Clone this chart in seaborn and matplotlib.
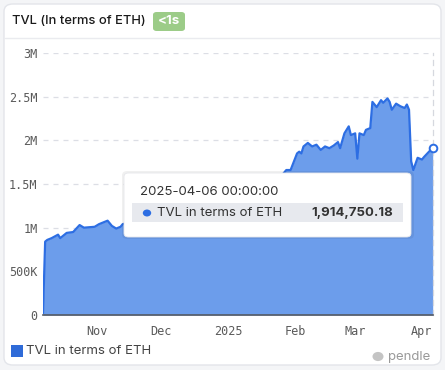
import matplotlib
matplotlib.use("Agg")
import matplotlib.pyplot as plt
import matplotlib.dates as mdates
from matplotlib.patches import FancyBboxPatch, Rectangle, Circle
import seaborn as sns
import pandas as pd
import numpy as np

# ---------------- data ----------------
dates = [
    "2024-10-07", "2024-10-08", "2024-10-09", "2024-10-11", "2024-10-14", "2024-10-15",
    "2024-10-18", "2024-10-21", "2024-10-24", "2024-10-26", "2024-10-31",
    "2024-11-02", "2024-11-06", "2024-11-08", "2024-11-10", "2024-11-12", "2024-11-13",
    "2024-11-16", "2024-11-20", "2024-11-24", "2024-11-28", "2024-12-02", "2024-12-06",
    "2024-12-10", "2024-12-14", "2024-12-18", "2024-12-22", "2024-12-26", "2024-12-30",
    "2025-01-03", "2025-01-07", "2025-01-11", "2025-01-15", "2025-01-19", "2025-01-23",
    "2025-01-26", "2025-01-28", "2025-01-30", "2025-02-02", "2025-02-03", "2025-02-04",
    "2025-02-05", "2025-02-07", "2025-02-09", "2025-02-11", "2025-02-13", "2025-02-15",
    "2025-02-17", "2025-02-19", "2025-02-21", "2025-02-22", "2025-02-24", "2025-02-26",
    "2025-02-27", "2025-03-01", "2025-03-02", "2025-03-03", "2025-03-05", "2025-03-06",
    "2025-03-08", "2025-03-09", "2025-03-11", "2025-03-13", "2025-03-14", "2025-03-16",
    "2025-03-17", "2025-03-18", "2025-03-20", "2025-03-22", "2025-03-24", "2025-03-25",
    "2025-03-26", "2025-03-27", "2025-03-28", "2025-03-30", "2025-04-01", "2025-04-02",
    "2025-04-06",
]
tvl_millions = [
    0.02, 0.84, 0.86, 0.88, 0.92, 0.88,
    0.94, 0.95, 1.03, 1.00, 1.01,
    1.04, 1.08, 1.02, 0.99, 1.01, 1.04,
    1.06, 1.10, 1.15, 1.18, 1.22, 1.25,
    1.30, 1.28, 1.33, 1.35, 1.38, 1.40,
    1.42, 1.45, 1.48, 1.50, 1.53, 1.57,
    1.60, 1.66, 1.66, 1.85, 1.87, 1.85,
    1.93, 1.97, 1.93, 1.95, 1.89, 1.93,
    1.91, 1.94, 1.98, 1.91, 2.08, 2.16,
    2.06, 2.08, 1.79, 2.08, 2.06, 2.12,
    2.14, 2.44, 2.38, 2.46, 2.43, 2.48,
    2.44, 2.35, 2.42, 2.39, 2.37, 2.41,
    2.35, 1.76, 1.66, 1.80, 1.78, 1.81,
    1.91475018,
]
y_ticks = [0, 500_000, 1_000_000, 1_500_000, 2_000_000, 2_500_000, 3_000_000]
y_tick_labels = ["0", "500K", "1M", "1.5M", "2M", "2.5M", "3M"]
x_tick_dates = ["2024-11-01", "2024-12-01", "2025-01-01", "2025-02-01", "2025-03-01", "2025-04-01"]
x_tick_labels = ["Nov", "Dec", "2025", "Feb", "Mar", "Apr"]

title = "TVL (In terms of ETH)"
badge = "<1s"
series_name = "TVL in terms of ETH"
tooltip_date = "2025-04-06 00:00:00"
tooltip_value = "1,914,750.18"
source = "pendle"

df = pd.DataFrame({"date": pd.to_datetime(dates),
                   "tvl": np.array(tvl_millions) * 1_000_000})

# ---------------- figure ----------------
W, H = 445, 370
sns.set_theme(style="white")
plt.rcParams["font.family"] = ["Inter", "DejaVu Sans"]

fig = plt.figure(figsize=(W / 100, H / 100), dpi=100, facecolor="#f4f5f7")

def fx(x):
    return x / W

def fy(y):
    return 1 - y / H

# card
card = FancyBboxPatch((fx(4), fy(365)), fx(437), (361) / H,
                      boxstyle="round,pad=0,rounding_size=0.02",
                      transform=fig.transFigure, facecolor="white",
                      edgecolor="#e3e5ea", linewidth=1.0, zorder=-10)
fig.add_artist(card)
# separator
fig.add_artist(plt.Line2D([fx(5), fx(440)], [fy(38), fy(38)], transform=fig.transFigure,
                          color="#eaebef", linewidth=1.0, zorder=-5))

fig.text(fx(12), fy(21), title, fontsize=9.3, color="#1a1a1a", va="center", ha="left",
         fontweight="medium")
badge_box = FancyBboxPatch((fx(153), fy(31)), fx(32), 19 / H,
                           boxstyle="round,pad=0,rounding_size=0.008",
                           transform=fig.transFigure, facecolor="#9ccc88",
                           edgecolor="none", zorder=1)
fig.add_artist(badge_box)
fig.text(fx(169), fy(21.5), badge, fontsize=9.5, color="white", va="center", ha="center",
         fontweight="bold")

# axes
ax = fig.add_axes([fx(43), fy(315), fx(432.7) - fx(43), (315 - 53) / H])
ax.set_facecolor("none")

line_color = "#2d6ee3"
fill_color = "#6c9deb"
ax.fill_between(df["date"], df["tvl"], 0, color=fill_color, linewidth=0, zorder=2)
sns.lineplot(data=df, x="date", y="tvl", ax=ax, color=line_color, linewidth=1.6, zorder=3)
ax.plot(df["date"].iloc[-1], df["tvl"].iloc[-1], marker="o", markersize=5.5,
        markerfacecolor="white", markeredgecolor=line_color, markeredgewidth=1.4,
        zorder=4, clip_on=False)

ax.set_xlim(df["date"].iloc[0], df["date"].iloc[-1])
ax.set_ylim(0, 3_000_000)
ax.set_yticks(y_ticks)
ax.set_yticklabels(y_tick_labels)
ax.set_xticks(pd.to_datetime(x_tick_dates))
ax.set_xticklabels(x_tick_labels)
ax.set_xlabel("")
ax.set_ylabel("")

for yv in y_ticks[1:]:
    ax.axhline(yv, color="#dcdee5", linewidth=0.9, linestyle=(0, (4, 4)), zorder=1)

for side in ["top", "left"]:
    ax.spines[side].set_visible(False)
ax.spines["right"].set_visible(True)
ax.spines["right"].set_color("#d6d8df")
ax.spines["right"].set_linestyle((0, (4, 4)))
ax.spines["right"].set_linewidth(0.9)
ax.spines["bottom"].set_color("#555a63")
ax.spines["bottom"].set_linewidth(1.2)
ax.spines["bottom"].set_zorder(5)

ax.tick_params(axis="both", length=0, labelsize=8.5, colors="#555555")
ax.tick_params(axis="y", pad=4)
ax.tick_params(axis="x", pad=7)
for lbl in ax.get_xticklabels() + ax.get_yticklabels():
    lbl.set_family(["DejaVu Sans Mono"])
    lbl.set_color("#5a5a5a")

# tooltip
shadow = FancyBboxPatch((fx(122), fy(239)), fx(292), 68 / H,
                        boxstyle="round,pad=0,rounding_size=0.012",
                        transform=fig.transFigure, facecolor="#000000", alpha=0.06,
                        edgecolor="none", zorder=8)
fig.add_artist(shadow)
tip = FancyBboxPatch((fx(124), fy(237)), fx(287), 64 / H,
                     boxstyle="round,pad=0,rounding_size=0.01",
                     transform=fig.transFigure, facecolor="white",
                     edgecolor="#e6e7eb", linewidth=0.6, zorder=9)
fig.add_artist(tip)
row = Rectangle((fx(132), fy(222)), fx(271), 19 / H, transform=fig.transFigure,
                facecolor="#e7e9ee", edgecolor="none", zorder=10)
fig.add_artist(row)
fig.text(fx(140), fy(192), tooltip_date, fontsize=9.5, color="#333333",
         va="center", ha="left", zorder=11)
fig.add_artist(Circle((fx(147), fy(213)), 4.2 / W, transform=fig.transFigure,
                      facecolor=line_color, edgecolor="none", zorder=11))
fig.text(fx(157), fy(213), series_name, fontsize=9.5, color="#333333",
         va="center", ha="left", zorder=11)
fig.text(fx(393), fy(213), tooltip_value, fontsize=9.5, color="#333333",
         va="center", ha="right", fontweight="bold", zorder=11)

# legend
fig.add_artist(Rectangle((fx(11), fy(357)), fx(12), 12 / H, transform=fig.transFigure,
                         facecolor="#2f6bd8", edgecolor="none", zorder=2))
fig.text(fx(26), fy(351), series_name, fontsize=9.5, color="#444444",
         va="center", ha="left")
fig.add_artist(Circle((fx(378), fy(356.5)), 5.5 / W, transform=fig.transFigure,
                      facecolor="#c4c4c4", edgecolor="none", zorder=2))
fig.text(fx(388), fy(357), source, fontsize=9.5, color="#999999",
         va="center", ha="left")

fig.savefig("out.png", dpi=100, facecolor=fig.get_facecolor())
